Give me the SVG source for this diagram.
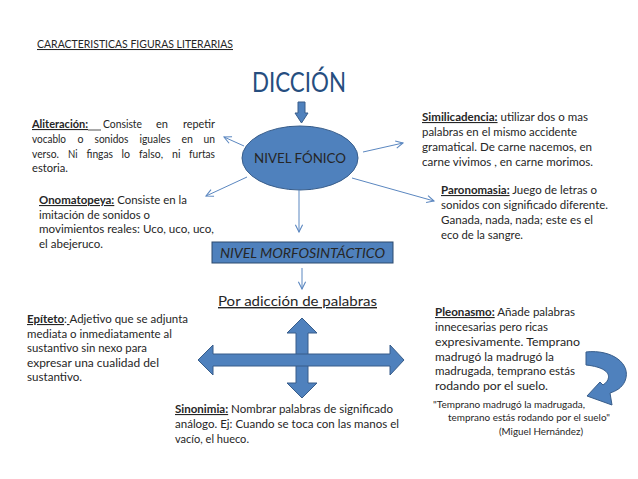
<svg xmlns="http://www.w3.org/2000/svg" width="638" height="479" viewBox="0 0 638 479">
<defs>
<style>
text{font-family:Lato,"Liberation Sans",Arial,sans-serif;fill:#262626;}
.lbl{font-weight:bold;text-decoration:underline;}
.shape{fill:#4F81BD;stroke:#385D8A;stroke-width:1;}
.conn{stroke:#5B87C0;stroke-width:1;fill:none;marker-end:url(#ah);}
</style>
<marker id="ah" viewBox="0 0 10 10" refX="9" refY="5" markerWidth="9" markerHeight="9" markerUnits="userSpaceOnUse" orient="auto">
<path d="M1,1 L9,5 L1,9" fill="none" stroke="#5B87C0" stroke-width="1.2"/>
</marker>
</defs>
<rect width="638" height="479" fill="#fff"/>

<g id="title">
<text x="37" y="48" font-size="10.5" textLength="196" lengthAdjust="spacingAndGlyphs" text-decoration="underline">CARACTERISTICAS FIGURAS LITERARIAS</text>
</g>

<g id="diccion">
<text x="252" y="92" font-size="26" textLength="94" lengthAdjust="spacingAndGlyphs" style="fill:#264E7F">DICCIÓN</text>
<path class="shape" d="M298,102 L305,102 L305,113 L308,113 L301.5,123 L295,113 L298,113 Z"/>
</g>

<g id="nivel-fonico">
<ellipse class="shape" cx="300" cy="158" rx="58" ry="32"/>
<text x="300" y="163" font-size="13" text-anchor="middle" textLength="92" lengthAdjust="spacingAndGlyphs">NIVEL FÓNICO</text>
</g>

<g id="connectors">
<line class="conn" x1="244" y1="146" x2="224" y2="137"/>
<line class="conn" x1="363" y1="152" x2="403" y2="143"/>
<line class="conn" x1="247" y1="177" x2="206" y2="196"/>
<line class="conn" x1="352" y1="178" x2="434" y2="201"/>
<line class="conn" x1="299" y1="190" x2="299" y2="232"/>
<line class="conn" x1="302" y1="268" x2="302" y2="289"/>
</g>

<g id="aliteracion" font-size="11">
<text x="32" y="128" textLength="56" lengthAdjust="spacingAndGlyphs" class="lbl">Aliteración:</text>
<line x1="88" y1="130" x2="101" y2="130" stroke="#262626" stroke-width="0.8"/>
<text x="103" y="128" textLength="39" lengthAdjust="spacingAndGlyphs">Consiste</text>
<text x="156" y="128" textLength="12" lengthAdjust="spacingAndGlyphs">en</text>
<text x="183" y="128" textLength="32" lengthAdjust="spacingAndGlyphs">repetir</text>
<text x="32" y="143" textLength="34" lengthAdjust="spacingAndGlyphs">vocablo</text>
<text x="77.5" y="143" textLength="6" lengthAdjust="spacingAndGlyphs">o</text>
<text x="94.5" y="143" textLength="34" lengthAdjust="spacingAndGlyphs">sonidos</text>
<text x="139.5" y="143" textLength="31" lengthAdjust="spacingAndGlyphs">iguales</text>
<text x="181.5" y="143" textLength="11.5" lengthAdjust="spacingAndGlyphs">en</text>
<text x="203.5" y="143" textLength="11.5" lengthAdjust="spacingAndGlyphs">un</text>
<text x="32" y="158" textLength="27" lengthAdjust="spacingAndGlyphs">verso.</text>
<text x="68" y="158" textLength="9.5" lengthAdjust="spacingAndGlyphs">Ni</text>
<text x="86.5" y="158" textLength="26.5" lengthAdjust="spacingAndGlyphs">fingas</text>
<text x="121.5" y="158" textLength="8.5" lengthAdjust="spacingAndGlyphs">lo</text>
<text x="139" y="158" textLength="24" lengthAdjust="spacingAndGlyphs">falso,</text>
<text x="172" y="158" textLength="8.5" lengthAdjust="spacingAndGlyphs">ni</text>
<text x="189" y="158" textLength="26" lengthAdjust="spacingAndGlyphs">furtas</text>
<text x="32" y="172" textLength="36" lengthAdjust="spacingAndGlyphs">estoria.</text>
</g>

<g id="similicadencia" font-size="11">
<text x="422" y="121" textLength="166" lengthAdjust="spacingAndGlyphs"><tspan class="lbl">Similicadencia:</tspan> utilizar dos o mas</text>
<text x="422" y="136" textLength="155" lengthAdjust="spacingAndGlyphs">palabras en el mismo accidente</text>
<text x="422" y="151" textLength="170" lengthAdjust="spacingAndGlyphs">gramatical. De carne nacemos, en</text>
<text x="422" y="166" textLength="171" lengthAdjust="spacingAndGlyphs">carne vivimos , en carne morimos.</text>
</g>

<g id="onomatopeya" font-size="11">
<text x="39" y="204" textLength="148" lengthAdjust="spacingAndGlyphs"><tspan class="lbl">Onomatopeya:</tspan> Consiste en la</text>
<text x="39" y="218.5" textLength="111" lengthAdjust="spacingAndGlyphs">imitación de sonidos o</text>
<text x="39" y="233" textLength="175" lengthAdjust="spacingAndGlyphs">movimientos reales: Uco, uco, uco,</text>
<text x="39" y="247.5" textLength="64" lengthAdjust="spacingAndGlyphs">el abejeruco.</text>
</g>

<g id="paronomasia" font-size="11">
<text x="441" y="194" textLength="156" lengthAdjust="spacingAndGlyphs"><tspan class="lbl">Paronomasia:</tspan> Juego de letras o</text>
<text x="441" y="209" textLength="167" lengthAdjust="spacingAndGlyphs">sonidos con significado diferente.</text>
<text x="441" y="224" textLength="152" lengthAdjust="spacingAndGlyphs">Ganada, nada, nada; este es el</text>
<text x="441" y="239" textLength="82" lengthAdjust="spacingAndGlyphs">eco de la sangre.</text>
</g>

<g id="nivel-morfosintactico">
<rect class="shape" x="212" y="242" width="181" height="21" style="stroke:#2C4A6E"/>
<text x="220" y="257.5" font-size="13" font-style="italic" textLength="165" lengthAdjust="spacingAndGlyphs">NIVEL MORFOSINTÁCTICO</text>
</g>

<g id="por-adiccion">
<text x="218" y="306" font-size="14" textLength="159" lengthAdjust="spacingAndGlyphs" text-decoration="underline">Por adicción de palabras</text>
</g>

<g id="cross-arrow">
<polygon class="shape" points="302,318 317,333 308,333 308,383 317,383 302,398 287,383 296,383 296,333 287,333"/>
<polygon class="shape" points="198,360 213,345 213,354 390,354 390,345 404,360 390,375 390,366 213,366 213,375"/>
</g>

<g id="epiteto" font-size="11">
<text x="27" y="323" textLength="161" lengthAdjust="spacingAndGlyphs"><tspan class="lbl">Epíteto</tspan>:<tspan text-decoration="underline"> </tspan>Adjetivo que se adjunta</text>
<text x="27" y="337.5" textLength="145" lengthAdjust="spacingAndGlyphs">mediata o inmediatamente al</text>
<text x="27" y="352" textLength="120" lengthAdjust="spacingAndGlyphs">sustantivo sin nexo para</text>
<text x="27" y="366.5" textLength="132" lengthAdjust="spacingAndGlyphs">expresar una cualidad del</text>
<text x="27" y="381" textLength="55" lengthAdjust="spacingAndGlyphs">sustantivo.</text>
</g>

<g id="sinonimia" font-size="11">
<text x="175" y="413" textLength="218" lengthAdjust="spacingAndGlyphs"><tspan class="lbl">Sinonimia:</tspan> Nombrar palabras de significado</text>
<text x="175" y="428" textLength="224" lengthAdjust="spacingAndGlyphs">análogo. Ej: Cuando se toca con las manos el</text>
<text x="175" y="443" textLength="74" lengthAdjust="spacingAndGlyphs">vacío, el hueco.</text>
</g>

<g id="pleonasmo" font-size="11">
<text x="435" y="316" textLength="140" lengthAdjust="spacingAndGlyphs"><tspan class="lbl">Pleonasmo:</tspan> Añade palabras</text>
<text x="435" y="331" textLength="113" lengthAdjust="spacingAndGlyphs">innecesarias pero ricas</text>
<text x="435" y="346" textLength="145" lengthAdjust="spacingAndGlyphs">expresivamente. Temprano</text>
<text x="435" y="360.5" textLength="119" lengthAdjust="spacingAndGlyphs">madrugó la madrugó la</text>
<text x="435" y="375" textLength="140" lengthAdjust="spacingAndGlyphs">madrugada, temprano estás</text>
<text x="435" y="390" textLength="113" lengthAdjust="spacingAndGlyphs">rodando por el suelo.</text>
</g>

<g id="curved-arrow">
<path class="shape" d="M586,352 C612,349 632,364 625,381 C622,388 616,391 610,393 L612,405 L587,396 L600,382 L603,385 C611,380 614,368 586,365 Z"/>
</g>

<g id="quote" font-size="10">
<text x="433" y="408" textLength="152" lengthAdjust="spacingAndGlyphs">"Temprano madrugó la madrugada,</text>
<text x="448" y="421" textLength="162" lengthAdjust="spacingAndGlyphs">temprano estás rodando por el suelo"</text>
<text x="499" y="435" textLength="84" lengthAdjust="spacingAndGlyphs">(Miguel Hernández)</text>
</g>
</svg>
